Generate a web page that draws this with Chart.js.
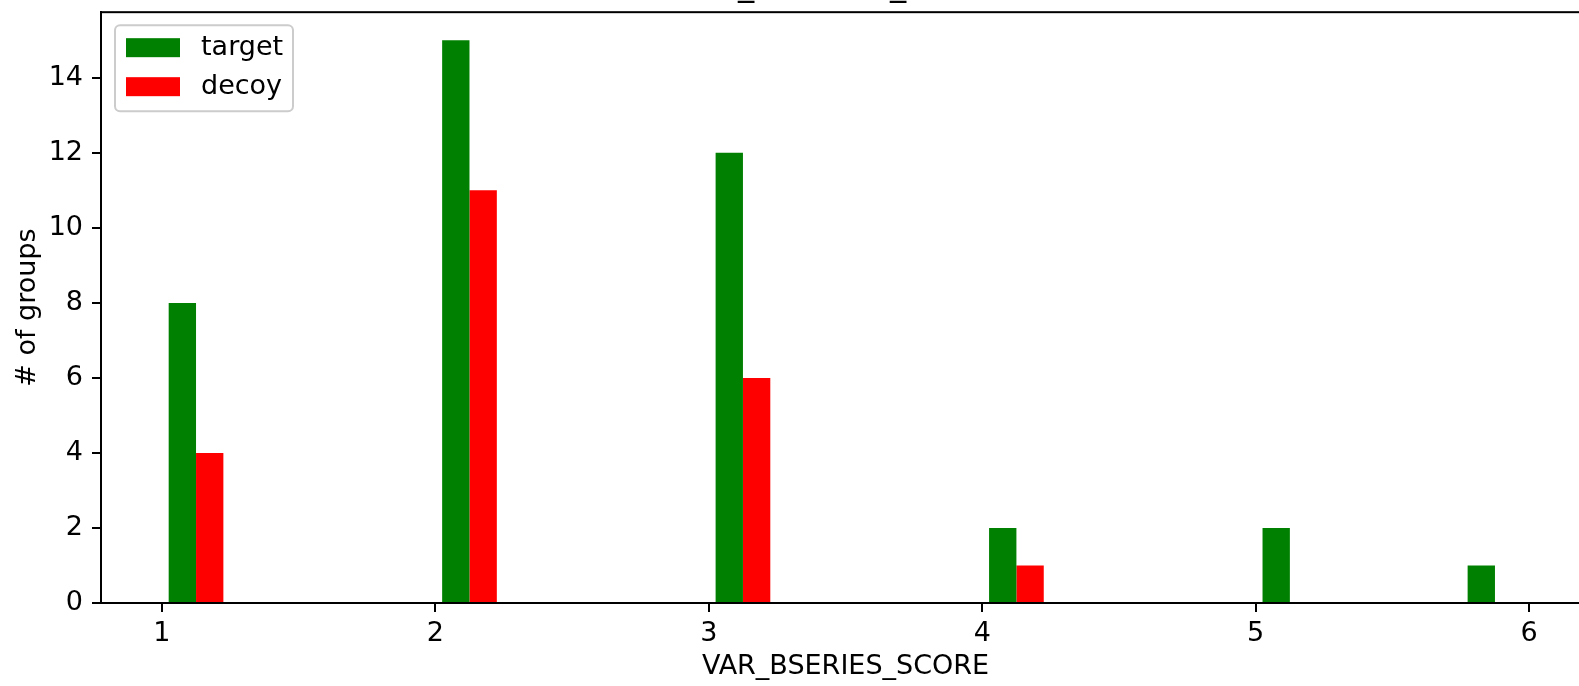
<!DOCTYPE html>
<html>
<head>
<meta charset="utf-8">
<script src="https://cdn.jsdelivr.net/npm/chart.js@4/dist/chart.umd.min.js"></script>
<style>
  html, body { margin: 0; padding: 0; background: #fff; overflow: hidden; }
  #wrap { position: absolute; left: 0; top: -33px; }
  canvas { display: block; }
</style>
</head>
<body>
<div id="wrap"><canvas id="histChart" width="1691" height="719"></canvas></div>
<script>
// histogram bins (centres of 0.25 wide bins from 1 to 6)
const binCenters = [1.125, 1.375, 1.625, 1.875, 2.125, 2.375, 2.625, 2.875, 3.125, 3.375,
                    3.625, 3.875, 4.125, 4.375, 4.625, 4.875, 5.125, 5.375, 5.625, 5.875];
const targetCounts = [8, 0, 0, 0, 15, 0, 0, 0, 12, 0, 0, 0, 2, 0, 0, 0, 2, 0, 0, 1];
const decoyCounts  = [4, 0, 0, 0, 11, 0, 0, 0, 6, 0, 0, 0, 1, 0, 0, 0, 0, 0, 0, 0];
const xTicks = [1, 2, 3, 4, 5, 6];
const yTicks = [0, 2, 4, 6, 8, 10, 12, 14];

Chart.defaults.font.family = "'DejaVu Sans', sans-serif";
Chart.defaults.font.size = 27;
Chart.defaults.color = '#000';

// box around the plot area, like matplotlib spines
const frame = {
    id: 'frame',
    afterDatasetsDraw(chart) {
        const a = chart.chartArea, ctx = chart.ctx;
        ctx.save();
        ctx.strokeStyle = '#000';
        ctx.lineWidth = 2;
        ctx.strokeRect(a.left, a.top, a.right - a.left, a.bottom - a.top);
        ctx.restore();
    }
};

// legend in the upper left corner of the plot area
const cornerLegend = {
    id: 'cornerLegend',
    afterDraw(chart) {
        const a = chart.chartArea, ctx = chart.ctx;
        const bx = a.left + 14, by = a.top + 13, bw = 178, bh = 86;
        ctx.save();
        ctx.beginPath();
        ctx.roundRect(bx, by, bw, bh, 5);
        ctx.fillStyle = 'rgba(255,255,255,0.8)';
        ctx.fill();
        ctx.strokeStyle = '#cccccc';
        ctx.lineWidth = 2;
        ctx.stroke();
        ctx.font = "27px 'DejaVu Sans'";
        ctx.textBaseline = 'middle';
        ctx.textAlign = 'left';
        chart.data.datasets.forEach(function (ds, i) {
            const hy = by + 13 + i * 39;
            ctx.fillStyle = ds.backgroundColor;
            ctx.fillRect(bx + 11, hy, 54, 19);
            ctx.fillStyle = '#000';
            ctx.fillText(ds.label, bx + 86, hy + 10);
        });
        ctx.restore();
    }
};

const ctx = document.getElementById('histChart').getContext('2d');
const chart = new Chart(ctx, {
    type: 'bar',
    data: {
        datasets: [{
            label: 'target',
            data: binCenters.map((x, i) => ({x: x, y: targetCounts[i]})),
            backgroundColor: '#008000',
            yAxisID: 'y'
        }, {
            label: 'decoy',
            data: binCenters.map((x, i) => ({x: x, y: decoyCounts[i]})),
            backgroundColor: '#ff0000',
            yAxisID: 'y'
        }]
    },
    options: {
        responsive: false,
        animation: false,
        devicePixelRatio: 1,
        categoryPercentage: 0.8,
        barPercentage: 1.0,
        layout: { padding: 0 },
        plugins: {
            legend: { display: false },
            tooltip: { enabled: false },
            title: {
                display: true,
                text: 'VAR_BSERIES_SCORE',
                font: { size: 32.4, weight: 'normal' },
                padding: { top: 0, bottom: 6.3 }
            }
        },
        scales: {
            x: {
                type: 'linear',
                min: 0.7775,
                max: 6.2225,
                offset: false,
                afterBuildTicks(s) { s.ticks = xTicks.map(v => ({value: v})); },
                afterFit(s) { s.height = 83; },
                ticks: { padding: 5.5, maxRotation: 0, autoSkip: false },
                grid: { offset: false, drawOnChartArea: false, drawTicks: true, tickLength: 9,
                        color: '#000', lineWidth: 2 },
                border: { display: true, color: '#000', width: 2 },
                title: { display: true, text: 'VAR_BSERIES_SCORE', padding: { top: 0, bottom: 2.8 } }
            },
            y: {
                type: 'linear',
                position: 'left',
                min: 0,
                max: 15.75,
                afterBuildTicks(s) { s.ticks = yTicks.map(v => ({value: v})); },
                afterFit(s) { s.width = 101; },
                ticks: { padding: 9 },
                grid: { drawOnChartArea: false, drawTicks: true, tickLength: 9,
                        color: '#000', lineWidth: 2 },
                border: { display: true, color: '#000', width: 2 },
                title: { display: true, text: '# of groups', padding: { top: 11.8, bottom: 0 } }
            },
            yR: {
                axis: 'y',
                position: 'right',
                display: true,
                ticks: { display: false },
                grid: { display: false },
                border: { display: false },
                afterFit(s) { s.width = 101; }
            }
        }
    },
    plugins: [frame, cornerLegend]
});
</script>
</body>
</html>
